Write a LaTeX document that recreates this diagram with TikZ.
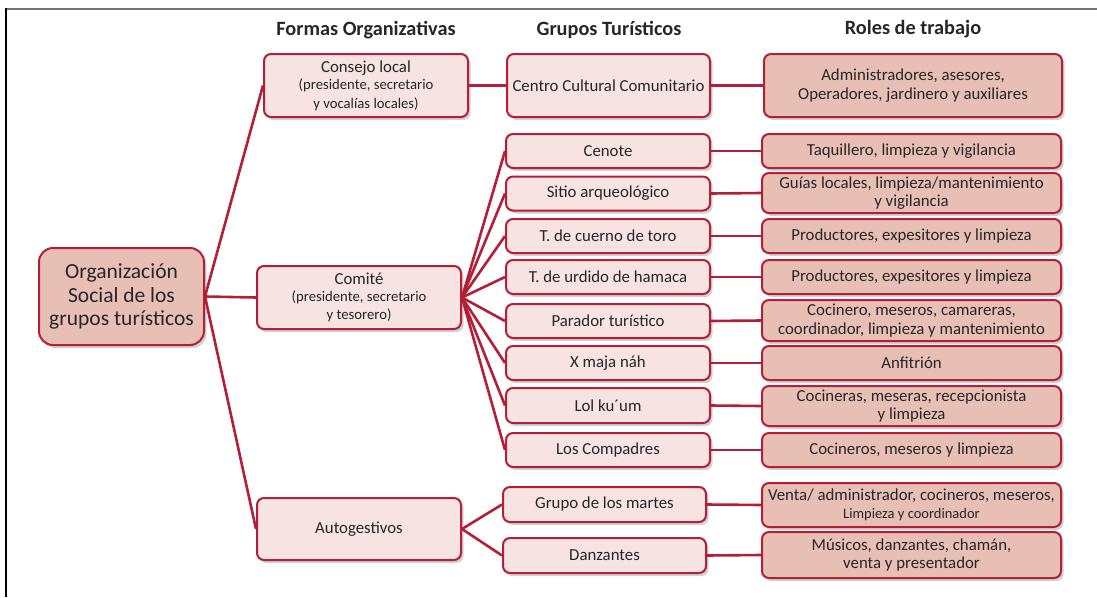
\documentclass[tikz,border=0pt]{standalone}
\usepackage{fontspec}
\setmainfont{Carlito}
\usetikzlibrary{shadows}
\definecolor{lc}{HTML}{B41E36}
\definecolor{lightf}{HTML}{F6E3E2}
\definecolor{darkf}{HTML}{E8BFB4}
\definecolor{txt}{HTML}{262626}
\tikzset{
  basebox/.style={draw=lc, line width=2pt, rounded corners=7pt, align=center, inner sep=0pt,
    text=txt, font=\fontsize{16.8}{18.5}\selectfont,
    drop shadow={shadow xshift=2.5pt, shadow yshift=-3pt, opacity=0.25, fill=black!70}},
  formbox/.style={basebox, fill=lightf},
  rolebox/.style={basebox, fill=darkf},
  hdr/.style={font=\bfseries\fontsize{20.3}{22}\selectfont, text=txt, inner sep=0pt},
  conn/.style={draw=lc, line width=2.6pt},
}
\newcommand{\smtx}[1]{{\fontsize{14.7}{16}\selectfont #1}}
\begin{document}
\begin{tikzpicture}[x=1pt,y=-1pt]
\useasboundingbox (0,0) rectangle (1097,597);
% frame
\draw[line width=2pt, draw=black!55] (6,8.5) -- (1097,8.5);
\draw[line width=1.3pt, draw=black] (6,8) -- (6,597);
% headers
\node[hdr] (h1) at (366,30) {Formas Organizativas};
\node[hdr] (h2) at (609,30) {Grupos Turísticos};
\node[hdr] (h3) at (913,29) {Roles de trabajo};
% main
\node[rolebox, rounded corners=14pt, minimum width=165pt, minimum height=97pt,
  font=\fontsize{21.5}{23.5}\selectfont] (main) at (121.5,296.5)
  {Organización\\Social de los\\grupos turísticos};
% forms
\node[formbox, minimum width=204pt, minimum height=63pt] (consejo) at (366,85.5)
  {Consejo local\\[-1pt]\smtx{(presidente, secretario}\\\smtx{y vocalías locales)}};
\node[formbox, minimum width=204pt, minimum height=63pt] (comite) at (359,297.5)
  {Comité\\[-2pt]\smtx{(presidente, secretario}\\\smtx{y tesorero)}};
\node[formbox, minimum width=204pt, minimum height=62pt] (auto) at (359,529)
  {Autogestivos};
% groups
\node[formbox, minimum width=203pt, minimum height=63pt] (centro) at (608.5,85.5) {Centro Cultural Comunitario};
\node[formbox, minimum width=204pt, minimum height=34pt] (cenote) at (608,151) {Cenote};
\node[formbox, minimum width=204pt, minimum height=34pt] (sitio) at (608,193.5) {Sitio arqueológico};
\node[formbox, minimum width=204pt, minimum height=34pt] (cuerno) at (608,236) {T. de cuerno de toro};
\node[formbox, minimum width=204pt, minimum height=34pt] (urdido) at (608,277) {T. de urdido de hamaca};
\node[formbox, minimum width=204pt, minimum height=34pt] (parador) at (608,321) {Parador turístico};
\node[formbox, minimum width=204pt, minimum height=34pt] (xmaja) at (608,363) {X maja náh};
\node[formbox, minimum width=204pt, minimum height=35pt] (lol) at (608,405.5) {Lol ku´um};
\node[formbox, minimum width=204pt, minimum height=34pt] (compadres) at (608,450) {Los Compadres};
\node[formbox, minimum width=203pt, minimum height=35pt] (martes) at (604.5,504.5) {Grupo de los martes};
\node[formbox, minimum width=203pt, minimum height=35pt] (danz) at (604.5,555.5) {Danzantes};
% roles
\node[rolebox, minimum width=298pt, minimum height=63pt] (radmin) at (913,85.5)
  {Administradores, asesores,\\Operadores, jardinero y auxiliares};
\node[rolebox, minimum width=299pt, minimum height=34pt] (rcenote) at (911.5,151) {Taquillero, limpieza y vigilancia};
\node[rolebox, minimum width=299pt, minimum height=40pt] (rsitio) at (911.5,193) {Guías locales, limpieza/mantenimiento\\y vigilancia};
\node[rolebox, minimum width=299pt, minimum height=34pt] (rcuerno) at (911.5,236) {Productores, expesitores y limpieza};
\node[rolebox, minimum width=299pt, minimum height=34pt] (rurdido) at (911.5,277) {Productores, expesitores y limpieza};
\node[rolebox, minimum width=299pt, minimum height=41pt] (rparador) at (911.5,320.5) {Cocinero, meseros, camareras,\\coordinador, limpieza y mantenimiento};
\node[rolebox, minimum width=299pt, minimum height=34pt] (rxmaja) at (911.5,363) {Anfitrión};
\node[rolebox, minimum width=299pt, minimum height=40pt] (rlol) at (911.5,406) {Cocineras, meseras, recepcionista\\y limpieza};
\node[rolebox, minimum width=299pt, minimum height=34pt] (rcomp) at (911.5,450) {Cocineros, meseros y limpieza};
\node[rolebox, minimum width=299pt, minimum height=44pt] (rmartes) at (911.5,505)
  {Venta/ administrador, cocineros, meseros,\\{\fontsize{14.5}{15}\selectfont Limpieza y coordinador}};
\node[rolebox, minimum width=299pt, minimum height=46pt] (rdanz) at (911.5,555) {Músicos, danzantes, chamán,\\venta y presentador};
% connectors
\draw[conn] (main.east) -- (consejo.west);
\draw[conn] (main.east) -- (comite.west);
\draw[conn] (main.east) -- (auto.west);
\draw[conn] (consejo.east) -- (centro.west);
\foreach \g in {cenote,sitio,cuerno,urdido,parador,xmaja,lol,compadres}
  \draw[conn] (comite.east) -- (\g.west);
\draw[conn] (auto.east) -- (martes.west);
\draw[conn] (auto.east) -- (danz.west);
\draw[conn] (centro.east) -- (radmin.west);
\draw[conn] (cenote.east) -- (rcenote.west);
\draw[conn] (sitio.east) -- (rsitio.west);
\draw[conn] (cuerno.east) -- (rcuerno.west);
\draw[conn] (urdido.east) -- (rurdido.west);
\draw[conn] (parador.east) -- (rparador.west);
\draw[conn] (xmaja.east) -- (rxmaja.west);
\draw[conn] (lol.east) -- (rlol.west);
\draw[conn] (compadres.east) -- (rcomp.west);
\draw[conn] (martes.east) -- (rmartes.west);
\draw[conn] (danz.east) -- (rdanz.west);
\end{tikzpicture}
\end{document}
